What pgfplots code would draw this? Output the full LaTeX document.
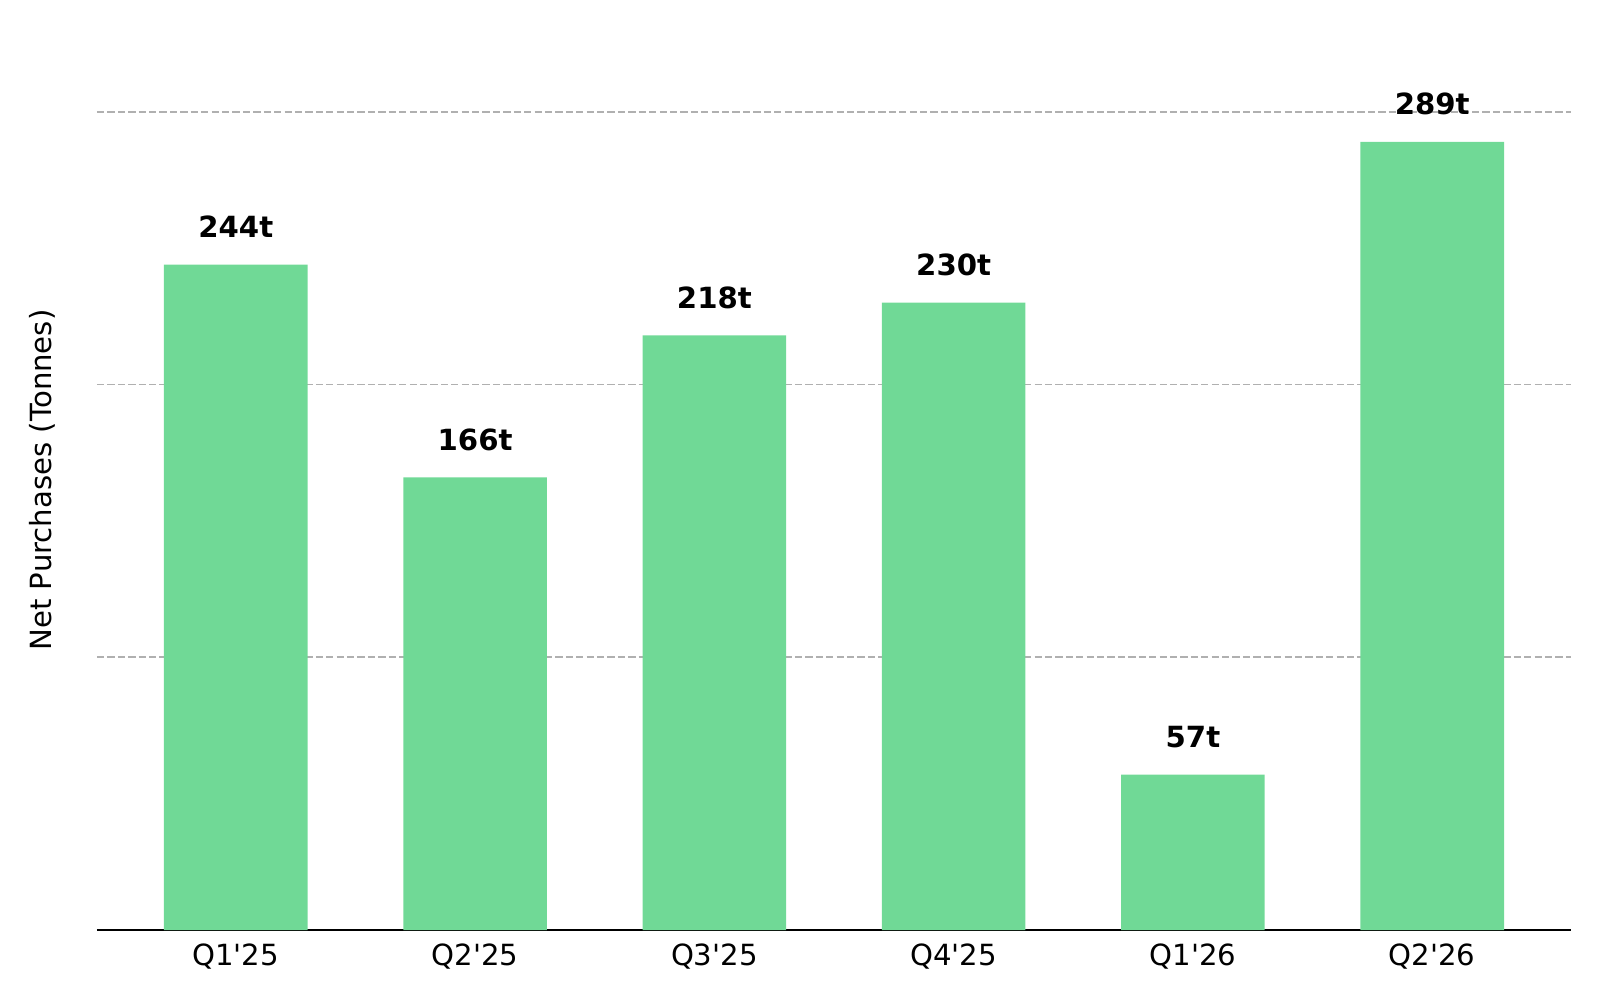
\documentclass[border=0pt]{standalone}
\usepackage{fontspec}
\setmainfont{DejaVu Sans}[Ligatures=TeXOff]
\usepackage{pgfplots}
\pgfplotsset{compat=1.18}
\definecolor{bargreen}{RGB}{112,217,150}
\definecolor{gridgray}{RGB}{176,176,176}
\begin{document}
\begin{tikzpicture}
\begin{axis}[
  scale only axis,
  width=707.52pt, height=432pt,
  xmin=-0.58, xmax=5.58, ymin=0, ymax=330,
  enlargelimits=false,
  ybar, bar width=0.6,
  axis x line*=bottom, axis y line*=left,
  y axis line style={draw=none},
  x axis line style={-, black, line width=0.8pt},
  major tick length=0pt,
  xtick={0,1,2,3,4,5},
  xticklabels={Q1'25,Q2'25,Q3'25,Q4'25,Q1'26,Q2'26},
  xticklabel style={font=\fontsize{14}{16.8}\selectfont, anchor=base, inner sep=0pt, yshift=-16.8pt},
  ytick={100,200,300},
  yticklabels={},
  ymajorgrids,
  major grid style={gridgray, line width=0.9pt, dash pattern=on 3.5pt off 1.5pt},
  ylabel={Net Purchases (Tonnes)},
  ylabel style={at={(axis description cs:-0.0373,0.5)}, anchor=center, font=\fontsize{14}{16.8}\selectfont},
  point meta=explicit symbolic,
  nodes near coords,
  every node near coord/.style={font=\bfseries\fontsize{14}{16.8}\selectfont, anchor=base, inner sep=0pt, yshift=13pt, black},
]
\addplot[fill=bargreen, draw=none] coordinates {
  (0,244) [244t]
  (1,166) [166t]
  (2,218) [218t]
  (3,230) [230t]
  (4,57) [57t]
  (5,289) [289t]
};
\end{axis}
\path (current axis.south west) ++(-46.56pt,-33.6pt) rectangle ++(768pt,480pt);
\end{tikzpicture}
\end{document}
